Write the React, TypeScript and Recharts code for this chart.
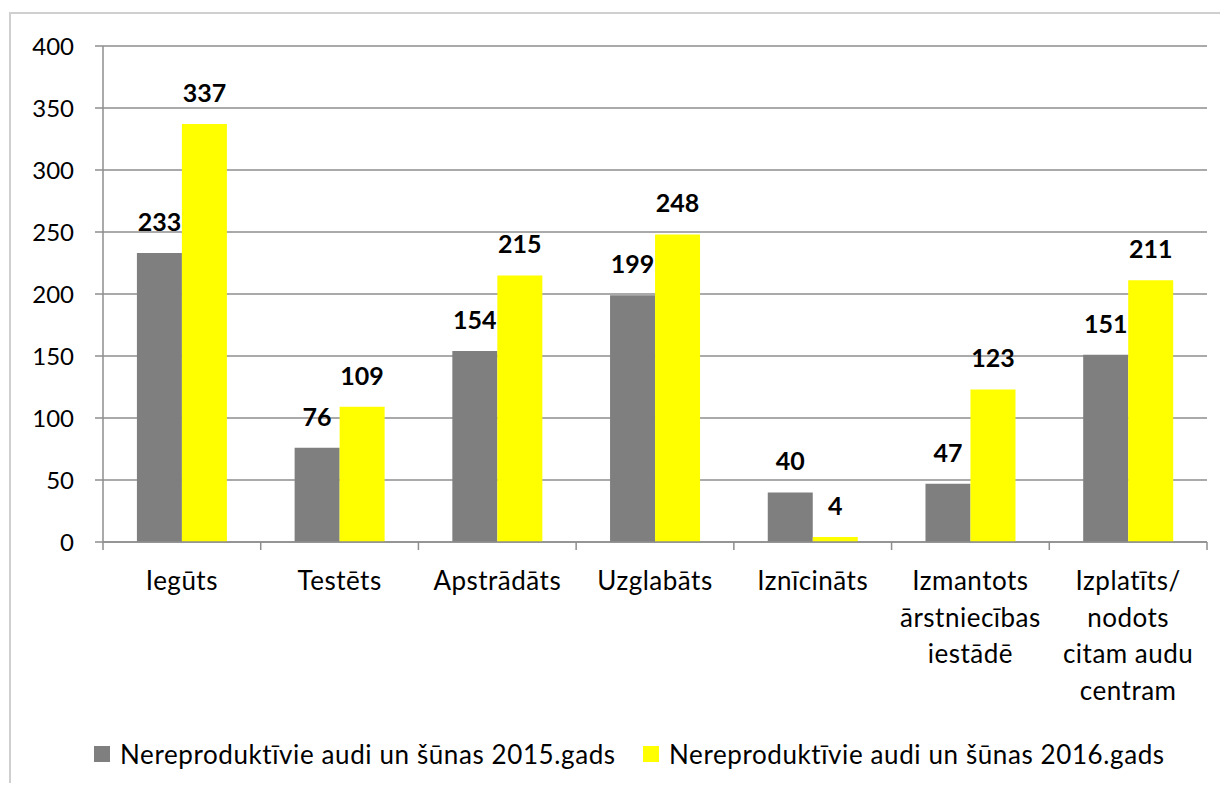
import React from "react";
import { BarChart, Bar, XAxis, YAxis, CartesianGrid, Legend, LabelList } from "recharts";

const categories = [
  ["Iegūts"],
  ["Testēts"],
  ["Apstrādāts"],
  ["Uzglabāts"],
  ["Iznīcināts"],
  ["Izmantots", "ārstniecības", "iestādē"],
  ["Izplatīts/", "nodots", "citam audu", "centram"],
];
const values2015 = [233, 76, 154, 199, 40, 47, 151];
const values2016 = [337, 109, 215, 248, 4, 123, 211];
const yTicks = [0, 50, 100, 150, 200, 250, 300, 350, 400];
const seriesNames = [
  "Nereproduktīvie audi un šūnas 2015.gads",
  "Nereproduktīvie audi un šūnas 2016.gads",
];

const GRAY = "#7f7f7f";
const YELLOW = "#ffff00";
const LINE = "#8e8e8e";
const FONT = "Lato, 'Open Sans', sans-serif";

const data = categories.map((lines, i) => ({
  name: lines.join(" "),
  lines,
  y2015: values2015[i],
  y2016: values2016[i],
}));

function CategoryTick(props: any) {
  const { x, y, payload, index, width, visibleTicksCount } = props;
  const band = width / visibleTicksCount;
  const lines = data[index]?.lines ?? [payload.value];
  const axisY = y - 8 - 2;
  return (
    <g>
      <line x1={x - band / 2} x2={x - band / 2} y1={axisY} y2={axisY + 8} stroke={LINE} strokeWidth={1.5} />
      {index === visibleTicksCount - 1 && (
        <line x1={x + band / 2} x2={x + band / 2} y1={axisY} y2={axisY + 8} stroke={LINE} strokeWidth={1.5} />
      )}
      {lines.map((l: string, i: number) => (
        <text
          key={i}
          x={x}
          y={axisY + 38 + i * 36.5}
          textAnchor="middle"
          dominantBaseline="central"
          fontFamily={FONT}
          fontSize={26}
          letterSpacing={0.5}
          fill="#000"
        >
          {l}
        </text>
      ))}
    </g>
  );
}

function LegendContent() {
  const colors = [GRAY, YELLOW];
  const lefts = [86, 635];
  return (
    <div style={{ position: "relative", width: 1212, height: 30 }}>
      {seriesNames.map((n, i) => (
        <div
          key={n}
          style={{
            position: "absolute",
            left: lefts[i],
            top: 0,
            height: 30,
            display: "flex",
            alignItems: "center",
            fontFamily: FONT,
            fontSize: 26,
            letterSpacing: 0.6,
            color: "#000",
            whiteSpace: "nowrap",
          }}
        >
          <span style={{ display: "inline-block", width: 16, height: 16, background: colors[i], marginRight: 10 }} />
          {n}
        </div>
      ))}
    </div>
  );
}

export default function App() {
  return (
    <div style={{ position: "relative", width: 1212, height: 775, overflow: "hidden", background: "#fff" }}>
      <div
        style={{
          position: "absolute",
          left: 1,
          top: 4,
          width: 1400,
          height: 1000,
          border: "2px solid #cfcfcf",
        }}
      />
      <div style={{ position: "absolute", left: 0, top: 0 }}>
        <BarChart
          width={1212}
          height={775}
          data={data}
          margin={{ top: 38, right: 13, left: 0, bottom: 14 }}
          barCategoryGap="21.5%"
          barGap={0}
        >
          <CartesianGrid vertical={false} stroke={LINE} strokeWidth={1.5} />
          <XAxis
            dataKey="name"
            height={197}
            interval={0}
            axisLine={{ stroke: LINE, strokeWidth: 1.5 }}
            tickLine={false}
            tickSize={8}
            tickMargin={2}
            tick={<CategoryTick />}
          />
          <YAxis
            width={95}
            domain={[0, 400]}
            ticks={yTicks}
            interval={0}
            axisLine={{ stroke: LINE, strokeWidth: 1.5 }}
            tickLine={{ stroke: LINE, strokeWidth: 1.5 }}
            tickSize={8}
            tickMargin={21}
            tick={{ fill: "#000", fontSize: 24, fontFamily: FONT }}
          />
          <Legend verticalAlign="bottom" content={<LegendContent />} wrapperStyle={{ left: 0, width: 1212 }} />
          <Bar dataKey="y2015" name={seriesNames[0]} fill={GRAY} isAnimationActive={false}>
            <LabelList dataKey="y2015" position="top" offset={22} fill="#000" fontSize={25} fontWeight="bold" fontFamily={FONT} />
          </Bar>
          <Bar dataKey="y2016" name={seriesNames[1]} fill={YELLOW} isAnimationActive={false}>
            <LabelList dataKey="y2016" position="top" offset={22} fill="#000" fontSize={25} fontWeight="bold" fontFamily={FONT} />
          </Bar>
        </BarChart>
      </div>
    </div>
  );
}
